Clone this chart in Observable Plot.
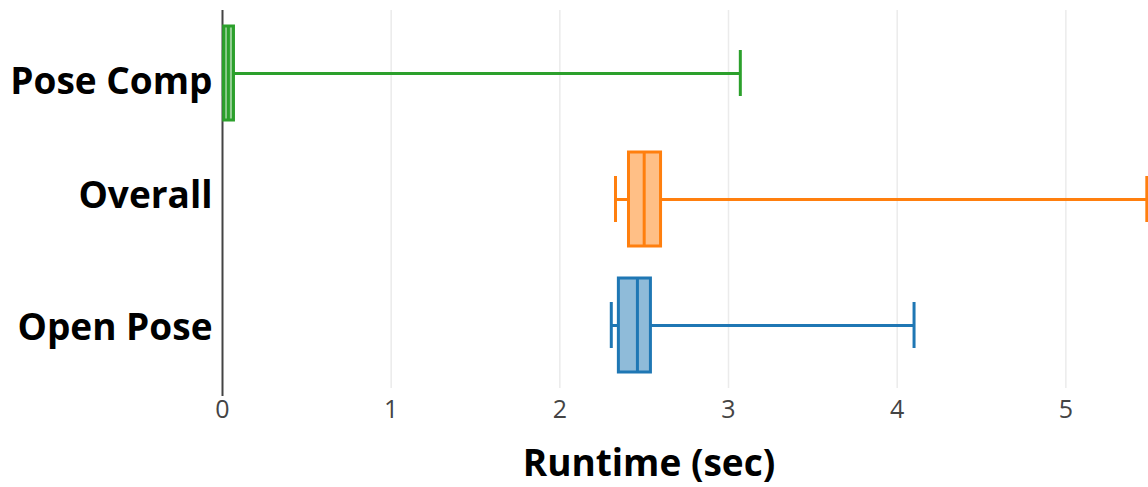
<!DOCTYPE html>
<html>
<head>
<meta charset="utf-8">
<script src="https://cdn.jsdelivr.net/npm/d3@7"></script>
<script src="https://cdn.jsdelivr.net/npm/@observablehq/plot@0.6"></script>
<style>
  html, body { margin: 0; padding: 0; background: #fff; }
  #wrap { position: relative; width: 1148px; height: 487px; overflow: hidden; font-family: "Open Sans", sans-serif; }
  #xtitle { position: absolute; left: 349px; top: 441px; width: 600px; text-align: center;
            font-size: 37px; font-weight: 700; line-height: 42px; color: #000; white-space: nowrap; }
</style>
</head>
<body>
<div id="wrap">
  <div id="chart"></div>
  <div id="xtitle">Runtime (sec)</div>
</div>
<script>
const categories = ["Pose Comp", "Overall", "Open Pose"];
const lowerWhisker = [0.005, 2.33, 2.305];
const q1 = [0.01, 2.41, 2.35];
const median = [0.035, 2.50, 2.46];
const q3 = [0.068, 2.60, 2.54];
const upperWhisker = [3.07, 5.48, 4.10];
const colors = ["#2ca02c", "#ff7f0e", "#1f77b4"];
const xTicks = [0, 1, 2, 3, 4, 5];
const gridTicks = [1, 2, 3, 4, 5];

// layout only: vertical nudges of the category labels (px)
const labelNudge = { "Pose Comp": 9, "Overall": -3, "Open Pose": 3 };

const rows = categories.map((c, i) => ({
  cat: c, lo: lowerWhisker[i], q1: q1[i], med: median[i], q3: q3[i], hi: upperWhisker[i], color: colors[i]
}));

const boxInset = 16;
const capInset = 40;

const chart = Plot.plot({
  width: 1148,
  height: 430,
  marginLeft: 222,
  marginRight: 0,
  marginTop: 10,
  marginBottom: 42,
  style: { fontFamily: "Open Sans, sans-serif", background: "#fff" },
  x: { domain: [0, 5.49] },
  y: { domain: categories, padding: 0, axis: null },
  marks: [
    Plot.ruleX(gridTicks, { stroke: "#ebebeb", strokeWidth: 1.5 }),
    Plot.ruleX([0], { stroke: "#444", strokeWidth: 2, insetBottom: -8 }),
    Plot.ruleY(rows, { y: "cat", x1: "lo", x2: "q1", stroke: "color", strokeWidth: 3 }),
    Plot.ruleY(rows, { y: "cat", x1: "q3", x2: "hi", stroke: "color", strokeWidth: 3 }),
    Plot.barX(rows, { y: "cat", x1: "q1", x2: "q3", fill: "color", fillOpacity: 0.5,
      stroke: "color", strokeWidth: 3, insetTop: boxInset, insetBottom: boxInset }),
    Plot.tickX(rows, { x: "med", y: "cat", stroke: "color", strokeWidth: 3, insetTop: boxInset, insetBottom: boxInset }),
    Plot.tickX(rows, { x: "lo", y: "cat", stroke: "color", strokeWidth: 3, insetTop: capInset, insetBottom: capInset }),
    Plot.tickX(rows, { x: "hi", y: "cat", stroke: "color", strokeWidth: 3, insetTop: capInset, insetBottom: capInset }),
    Plot.axisX({ ticks: xTicks, tickFormat: d3.format("d"), tickSize: 0, tickPadding: 12, fontSize: 25, fill: "#444", label: null }),
    ...categories.map(c => Plot.axisY([c], { tickSize: 0, tickPadding: 10, fontSize: 37, fontWeight: 700,
      fill: "#000", label: null, dy: labelNudge[c] }))
  ]
});
document.getElementById("chart").appendChild(chart);
</script>
</body>
</html>
